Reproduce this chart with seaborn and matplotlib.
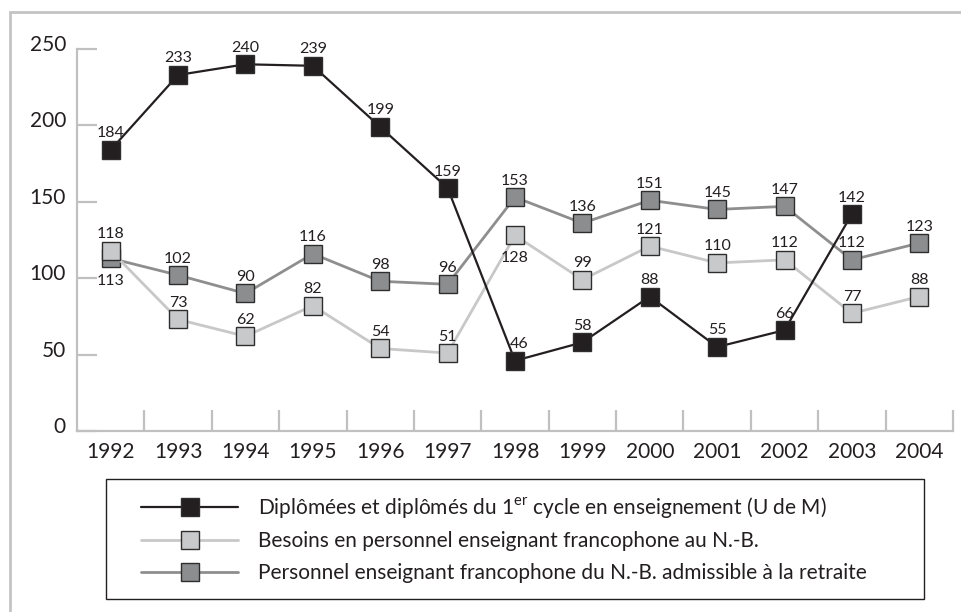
import matplotlib
matplotlib.use("Agg")
import pandas as pd
import seaborn as sns
import matplotlib.pyplot as plt
from matplotlib.lines import Line2D
from matplotlib.patches import Rectangle
from matplotlib.transforms import ScaledTranslation

# Data
years = [1992, 1993, 1994, 1995, 1996, 1997, 1998, 1999, 2000, 2001, 2002, 2003, 2004]
diplomes = [184, 233, 240, 239, 199, 159, 46, 58, 88, 55, 66, 142, None]
besoins = [118, 73, 62, 82, 54, 51, 128, 99, 121, 110, 112, 77, 88]
retraite = [113, 102, 90, 116, 98, 96, 153, 136, 151, 145, 147, 112, 123]

labels = [
    "Diplômées et diplômés du 1$^{\\mathrm{er}}$ cycle en enseignement (U de M)",
    "Besoins en personnel enseignant francophone au N.-B.",
    "Personnel enseignant francophone du N.-B. admissible à la retraite",
]

sns.set_style("white")
plt.rcParams["font.family"] = ["Lato", "DejaVu Sans"]
plt.rcParams["mathtext.fontset"] = "custom"
plt.rcParams["mathtext.rm"] = "Lato"

txt = "#231f20"
axis_grey = "#c0c0c0"
edge = "#2e2e2e"
# (values, line colour, marker face, line width, zorder)
series = [
    (retraite, "#8e8e8e", "#8c8d8f", 2.0, 2),
    (besoins, "#c8c8c8", "#c8c9ca", 2.0, 3),
    (diplomes, txt, txt, 1.6, 4),
]

fig = plt.figure(figsize=(9.61, 6.12), dpi=100)
ax = fig.add_axes([77 / 961, 1 - 431 / 612, (953 - 77) / 961, (431 - 49) / 612])

idx = list(range(len(years)))
for vals, lc, fc, lw, z in series:
    df = pd.DataFrame({"x": idx, "y": vals}).dropna()
    sns.lineplot(data=df, x="x", y="y", ax=ax, color=lc, lw=lw, marker="s",
                 markersize=12.5, markerfacecolor=fc, markeredgecolor=edge,
                 markeredgewidth=1.0, zorder=z, clip_on=False, legend=False)

# value labels, mostly above the markers
below = {("retraite", 0), ("besoins", 6)}
for name, vals in [("diplomes", diplomes), ("besoins", besoins), ("retraite", retraite)]:
    for i, v in enumerate(vals):
        if v is None:
            continue
        if (name, i) in below:
            off, va = (0, -11), "top"
        elif name == "diplomes" and i == 6:
            off, va = (3, 9), "baseline"
        else:
            off, va = (0, 9), "baseline"
        ax.annotate(str(v), (i, v), xytext=off, textcoords="offset points",
                    ha="center", va=va, fontsize=11.5, color=txt, zorder=6)

ax.set_xlim(-0.5, len(years) - 0.5)
ax.set_ylim(0, 250)
ax.set_xlabel("")
ax.set_ylabel("")
ax.set_xticks(idx)
ax.set_xticklabels([str(y) for y in years])
ax.set_xticks([i + 0.5 for i in idx], minor=True)
ax.set_yticks([0, 50, 100, 150, 200, 250])

for s in ["top", "right"]:
    ax.spines[s].set_visible(False)
for s in ["left", "bottom"]:
    ax.spines[s].set_color(axis_grey)
    ax.spines[s].set_linewidth(1.6)

ax.tick_params(axis="x", which="major", bottom=True, length=0, pad=8, labelsize=15,
               labelcolor=txt)
ax.tick_params(axis="x", which="minor", bottom=True, direction="in", length=15,
               width=1.6, color=axis_grey)
ax.tick_params(axis="y", left=True, direction="in", length=14.5, width=1.6,
               color=axis_grey, pad=8, labelsize=15, labelcolor=txt)
for lab in ax.get_yticklabels():
    lab.set_transform(lab.get_transform() + ScaledTranslation(0, 0.06, fig.dpi_scale_trans))

# legend: frameless legend inside a drawn box
handles = [
    Line2D([], [], color=lc, lw=lw, marker="s", markersize=12.5, markerfacecolor=fc,
           markeredgecolor=edge, markeredgewidth=1.0)
    for vals, lc, fc, lw, z in [series[2], series[1], series[0]]
]
fs = 15
leg = fig.legend(handles, labels, loc="upper left",
                 bbox_to_anchor=(141 / 961, 1 - 495 / 612),
                 fontsize=fs, handlelength=97 / (fs * 100 / 72),
                 handletextpad=20 / (fs * 100 / 72), borderpad=0, labelspacing=0.55,
                 frameon=False, borderaxespad=0)
for t in leg.get_texts():
    t.set_color(txt)
fig.patches.append(Rectangle((106 / 961, 1 - 599 / 612), (924 - 106) / 961, 120 / 612,
                             transform=fig.transFigure, fill=False, edgecolor=txt, lw=1.0))

# outer frame of the figure
fig.patches.append(Rectangle((10 / 961, -0.5), 2, 1.5 - 12 / 612, transform=fig.transFigure,
                             fill=False, edgecolor="#c4c4c4", lw=2))

fig.savefig("out.png", dpi=100)
